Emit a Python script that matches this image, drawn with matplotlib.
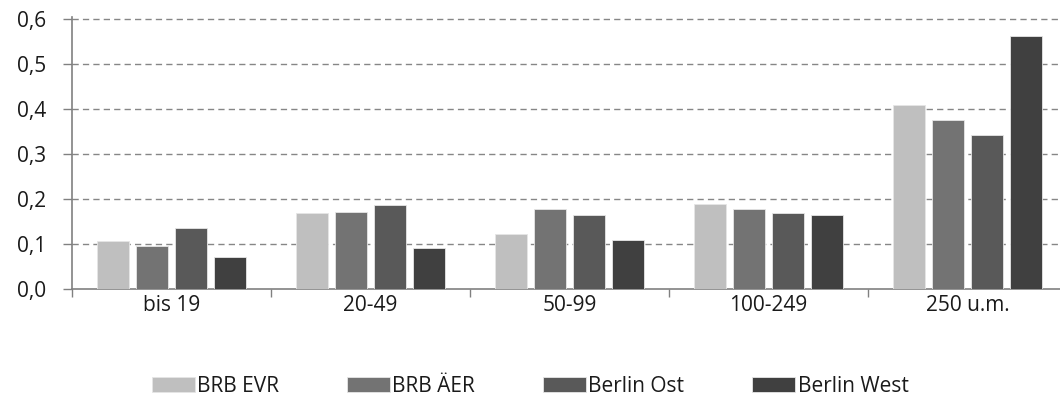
import numpy as np
import matplotlib
matplotlib.use("Agg")
import matplotlib.pyplot as plt
from matplotlib.ticker import FuncFormatter, FixedLocator

plt.rcParams['font.family'] = ['Open Sans', 'DejaVu Sans']

# ── data ────────────────────────────────────────────────────────────────────
categories = ['bis 19', '20-49', '50-99', '100-249', '250 u.m.']
series = ['BRB EVR', 'BRB ÄER', 'Berlin Ost', 'Berlin West']
brb_evr     = [0.106, 0.169, 0.122, 0.189, 0.408]
brb_aer     = [0.094, 0.170, 0.177, 0.177, 0.375]
berlin_ost  = [0.134, 0.186, 0.163, 0.169, 0.343]
berlin_west = [0.071, 0.090, 0.107, 0.163, 0.563]
values = [brb_evr, brb_aer, berlin_ost, berlin_west]
colors = ['#bfbfbf', '#737373', '#595959', '#404040']

FS = 15

# ── figure ──────────────────────────────────────────────────────────────────
W, H = 1060, 407
fig = plt.figure(figsize=(W / 100, H / 100), dpi=100)
ax = fig.add_axes([72 / W, (H - 288.5) / H, 988 / W, (288.5 - 17.0) / H])

x = np.arange(len(categories))
step = 39 / 199
bw = 32 / 199
for i, (name, vals, c) in enumerate(zip(series, values, colors)):
    ax.bar(x + (i - 1.5) * step, vals, width=bw, color=c, label=name,
           edgecolor='#e6e6e6', linewidth=0.6, zorder=3)

ax.set_xlim(-0.5, -0.5 + 988 / 199)
ax.set_ylim(0, 0.605)
ax.set_yticks(np.arange(0, 0.61, 0.1))
ax.yaxis.set_major_formatter(FuncFormatter(lambda v, p: f'{v:.1f}'.replace('.', ',')))

for yv in np.arange(0.1, 0.61, 0.1):
    ax.axhline(yv, color='#868686', lw=1.0, ls=(0, (4.5, 3)), zorder=1)

ax.set_xticks(x)
ax.set_xticklabels(categories)
ax.xaxis.set_minor_locator(FixedLocator(np.arange(-0.5, 4.0, 1.0)))
ax.tick_params(axis='x', which='major', length=0, pad=5, labelsize=FS, colors='#1a1a1a')
ax.tick_params(axis='x', which='minor', length=6, width=1.0, color='#808080')
ax.tick_params(axis='y', length=6.5, width=1.0, color='#808080', pad=12,
               labelsize=FS, labelcolor='#1a1a1a')

for s in ['top', 'right']:
    ax.spines[s].set_visible(False)
for s in ['left', 'bottom']:
    ax.spines[s].set_color('#808080')
    ax.spines[s].set_linewidth(1.2)

fig.legend(loc='center', bbox_to_anchor=(530 / W, 1 - 386 / H), ncol=4,
           frameon=False, fontsize=FS, handlelength=2.07, handleheight=0.72,
           handletextpad=0.1, columnspacing=3.27, labelcolor='#1a1a1a')

fig.savefig('out.png', dpi=100)
